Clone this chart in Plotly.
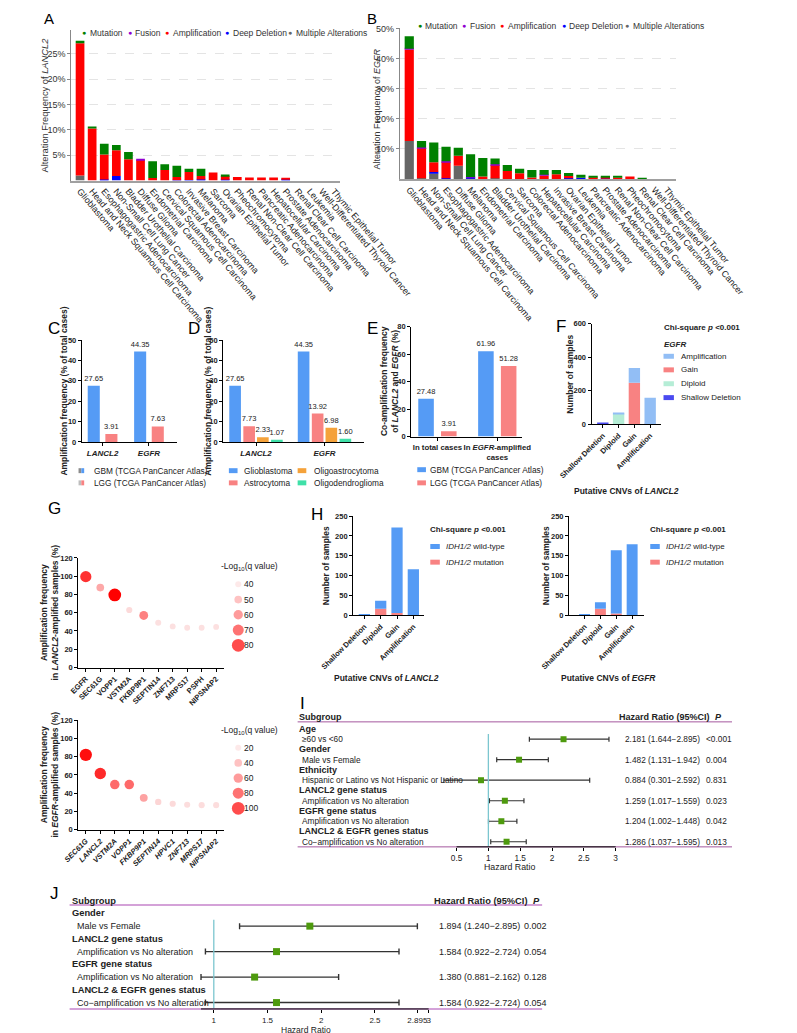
import numpy as np
import plotly.graph_objects as go

W, H = 797, 1033
SANS = "Arial, Liberation Sans, Arimo, sans-serif"

# ---------------- data ----------------
# A: LANCL2 alteration frequency (%) by cancer type
A_TYPES = ["Glioblastoma", "Head and Neck Squamous Cell Carcinoma", "Esophagogastric Adenocarcinoma",
           "Non-Small Cell Lung Cancer", "Bladder Urothelial Carcinoma", "Diffuse Glioma",
           "Endometrial Carcinoma", "Cervical Squamous Cell Carcinoma", "Colorectal Adenocarcinoma",
           "Invasive Breast Carcinoma", "Melanoma", "Sarcoma", "Ovarian Epithelial Tumor",
           "Pheochromocytoma", "Renal Non-Clear Cell Carcinoma", "Pancreatic Adenocarcinoma",
           "Hepatocellular Carcinoma", "Prostate Adenocarcinoma", "Renal Clear Cell Carcinoma",
           "Leukemia", "Well-Differentiated Thyroid Cancer", "Thymic Epithelial Tumor"]
A_MULTI = [1.0, 0, 0, 0, 0, 0, 0, 0, 0, 0, 0, 0, 0, 0, 0, 0, 0, 0, 0, 0, 0, 0]
A_DEEPDEL = [0, 0, 0.2, 0.9, 0, 0, 0, 0, 0.05, 0.1, 0.2, 0, 0.15, 0, 0, 0, 0, 0.25, 0, 0, 0, 0]
A_AMP = [26.1, 10.26, 4.93, 5.1, 4.2, 4.05, 0.5, 2.1, 0.65, 1.6, 0.7, 1.6, 0.75, 0.7, 0.6, 0.6, 0.6, 0.2, 0, 0, 0, 0]
A_FUSION = [0, 0, 0, 0, 0, 0.25, 0, 0, 0, 0, 0, 0, 0, 0, 0, 0, 0, 0, 0, 0, 0, 0]
A_MUT = [0.5, 0.4, 2.14, 1.0, 1.45, 0, 3.3, 1.1, 2.2, 0.6, 1.4, 0, 0.3, 0, 0, 0, 0, 0, 0, 0, 0, 0]

# B: EGFR alteration frequency (%) by cancer type
B_TYPES = ["Glioblastoma", "Head and Neck Squamous Cell Carcinoma", "Non-Small Cell Lung Cancer",
           "Esophagogastric Adenocarcinoma", "Diffuse Glioma", "Melanoma", "Endometrial Carcinoma",
           "Bladder Urothelial Carcinoma", "Cervical Squamous Cell Carcinoma", "Sarcoma",
           "Colorectal Adenocarcinoma", "Hepatocellular Carcinoma", "Invasive Breast Carcinoma",
           "Ovarian Epithelial Tumor", "Leukemia", "Pancreatic Adenocarcinoma", "Prostate Adenocarcinoma",
           "Renal Non-Clear Cell Carcinoma", "Pheochromocytoma", "Renal Clear Cell Carcinoma",
           "Well-Differentiated Thyroid Cancer", "Thymic Epithelial Tumor"]
B_MULTI = [12.6, 0.3, 1.8, 0, 4.4, 0.3, 0, 0.3, 0, 0, 0, 0, 0, 0, 0, 0, 0, 0, 0, 0, 0, 0]
B_DEEPDEL = [0, 0, 0.5, 0.3, 0, 0.2, 0, 0, 0, 0, 0, 0, 0, 0.3, 0.4, 0, 0.2, 0, 0, 0, 0, 0]
B_AMP = [30.4, 10.0, 3.3, 5.4, 3.3, 0, 0.8, 4.4, 2.7, 1.9, 0.5, 1.2, 1.6, 0.7, 0, 0.6, 0.3, 0.5, 0.8, 0, 0, 0]
B_FUSION = [0.3, 0.2, 0, 0.2, 0, 0.2, 0, 0.2, 0, 0, 0, 0.2, 0, 0, 0, 0, 0, 0, 0, 0, 0, 0]
B_MUT = [4.1, 2.1, 6.5, 4.8, 2.7, 7.5, 6.2, 1.9, 2.0, 1.5, 2.5, 1.6, 1.4, 1.0, 1.0, 0.5, 0.5, 0.3, 0, 0.4, 0, 0]

ALT_NAMES = ["Mutation", "Fusion", "Amplification", "Deep Deletion", "Multiple Alterations"]
ALT_COLORS = ["#008000", "#9100d0", "#ff0000", "#0000ff", "#666666"]

# C / D / E amplification frequencies (%)
GENES = ["LANCL2", "EGFR"]
C_GBM = [27.65, 44.35]
C_LGG = [3.91, 7.63]
D_GLIO = [27.65, 44.35]
D_ASTRO = [7.73, 13.92]
D_OLIGOASTRO = [2.33, 6.98]
D_OLIGODENDRO = [1.07, 1.60]
E_CATS = ["In total cases", "In EGFR-amplified cases"]
E_GBM = [27.48, 61.96]
E_LGG = [3.91, 51.28]

# F: EGFR status within LANCL2 CNV groups (samples)
CNV = ["Shallow Deletion", "Diploid", "Gain", "Amplification"]
F_SHALLOW = [5, 0, 0, 0]
F_DIPLOID = [0, 64, 0, 0]
F_GAIN = [0, 0, 248, 2]
F_AMPLIF = [0, 7, 88, 157]

# G: co-amplified genes
G1_GENES = ["EGFR", "SEC61G", "VOPP1", "VSTM2A", "FKBP9P1", "SEPTIN14", "ZNF713", "MRPS17", "PSPH", "NIPSNAP2"]
G1_FREQ = [99.5, 87.5, 79.5, 63, 57, 49, 45, 43.5, 43.5, 44.5]
G1_LOGQ = [71, 50, 80, 41, 57, 40, 39, 39, 39, 39]
G1_LEGEND = [40, 50, 60, 70, 80]
G2_GENES = ["SEC61G", "LANCL2", "VSTM2A", "VOPP1", "FKBP9P1", "SEPTIN14", "HPVC1", "ZNF713", "MRPS17", "NIPSNAP2"]
G2_FREQ = [82, 61.5, 49.5, 49.5, 35, 30.5, 28.5, 27.5, 27, 27]
G2_LOGQ = [95, 85, 62, 62, 42, 24, 22, 21, 21, 21]
G2_LEGEND = [20, 40, 60, 80, 100]

# H: IDH1/2 status within CNV groups (samples)
H1_WT = [2, 20, 215, 116]
H1_MUT = [0, 17, 6, 0]
H2_WT = [2, 16, 159, 179]
H2_MUT = [0, 17, 5, 0]

# I: Cox regression (cohort 1)
I_GROUPS = ["Age", "Gender", "Ethnicity", "LANCL2 gene status", "EGFR gene status", "LANCL2 &amp; EGFR genes status"]
I_ITEMS = ["≥60 vs &lt;60", "Male vs Female", "Hispanic or Latino vs Not Hispanic or Latino",
           "Amplification vs No alteration", "Amplification vs No alteration", "Co\u2212amplification vs No alteration"]
I_HR = [2.181, 1.482, 0.884, 1.259, 1.204, 1.286]
I_LO = [1.644, 1.131, 0.301, 1.017, 1.002, 1.037]
I_HI = [2.895, 1.942, 2.592, 1.559, 1.448, 1.595]
I_P = ["&lt;0.001", "0.004", "0.831", "0.023", "0.042", "0.013"]
I_TICKS = [0.5, 1, 1.5, 2, 2.5, 3]

# J: Cox regression (cohort 2)
J_GROUPS = ["Gender", "LANCL2 gene status", "EGFR gene status", "LANCL2 &amp; EGFR genes status"]
J_ITEMS = ["Male vs Female", "Amplification vs No alteration", "Amplification vs No alteration",
           "Co\u2212amplification vs No alteration"]
J_HR = [1.894, 1.584, 1.380, 1.584]
J_LO = [1.240, 0.922, 0.881, 0.922]
J_HI = [2.895, 2.724, 2.162, 2.724]
J_P = ["0.002", "0.054", "0.128", "0.054"]
J_TICKS = [1, 1.5, 2, 2.5, 2.895, 3]

BLUE, PINK, ORANGE, TEAL = "#559bf5", "#f88282", "#f5a23a", "#3fe0a8"
F_COLORS = ["#4a4af0", "#b5edd6", "#f88282", "#92bef5"]
GREEN = "#4e9a0e"

fig = go.Figure()
layout = dict(width=W, height=H, margin=dict(l=0, r=0, t=0, b=0), paper_bgcolor="white",
              plot_bgcolor="white", showlegend=False, barmode="overlay",
              font=dict(family=SANS, color="#222"))
ann, shapes = [], []


def axes(n, x0, x1, y0, y1, xr, yr, xkw=None, ykw=None):
    s = "" if n == 1 else str(n)
    base = dict(showgrid=False, zeroline=False, fixedrange=True)
    xa = dict(domain=[x0 / W, x1 / W], range=xr, anchor="y" + s, **base)
    ya = dict(domain=[1 - y1 / H, 1 - y0 / H], range=yr, anchor="x" + s, **base)
    xa.update(xkw or {})
    ya.update(ykw or {})
    layout["xaxis" + s] = xa
    layout["yaxis" + s] = ya
    return "x" + s, "y" + s


def T(x, y, s, size=8, anchor="left", angle=0, color="#222", yref="paper"):
    ann.append(dict(x=x / W, y=(1 - y / H) if yref == "paper" else y, xref="paper", yref=yref, text=s,
                    showarrow=False, xanchor=anchor, yanchor="middle", textangle=angle, borderpad=0,
                    font=dict(size=size, family=SANS, color=color)))


def rect(x0, x1, y0, y1, color):
    shapes.append(dict(type="rect", xref="paper", yref="paper", x0=x0 / W, x1=x1 / W,
                       y0=1 - y1 / H, y1=1 - y0 / H, fillcolor=color, line=dict(width=0)))


def hline(x0, x1, y, color, w):
    shapes.append(dict(type="line", xref="paper", yref="paper", x0=x0 / W, x1=x1 / W,
                       y0=1 - y / H, y1=1 - y / H, line=dict(color=color, width=w)))


def swatch(x, y, color, text, tx, size=8, w=11, h=5):
    rect(x, x + w, y - h / 2, y + h / 2, color)
    T(tx, y, text, size)


def stacked(xa, ya, cats, layers, colors, width):
    base = np.zeros(len(cats))
    for vals, col in zip(layers, colors):
        vals = np.asarray(vals, float)
        fig.add_trace(go.Bar(x=cats, y=vals, base=base.copy(), width=width, offset=-width / 2,
                             marker=dict(color=col, line=dict(width=0)), xaxis=xa, yaxis=ya))
        base += vals


def grouped(xa, ya, cats, vals, color, center, width):
    fig.add_trace(go.Bar(x=cats, y=vals, width=width, offset=center - width / 2,
                         marker=dict(color=color, line=dict(width=0)),
                         text=[f"{v:.2f}" for v in vals], textposition="outside",
                         textfont=dict(size=7.5, color="#222"), cliponaxis=False,
                         constraintext="none", xaxis=xa, yaxis=ya))


# ---------------- A / B (cBioPortal style) ----------------
cb_y = dict(showline=True, linecolor="#888", linewidth=1, ticks="outside", ticklen=3, tickcolor="#888",
            showgrid=True, gridcolor="#e4e4e4", griddash="dash", tickfont=dict(size=9, color="#333"))
cb_x = dict(type="category", showline=True, linecolor="#a0a0a0", linewidth=2, ticks="",
            tickangle=50, tickfont=dict(size=9, color="#222"))


def pct(vals):
    return dict(tickvals=vals, ticktext=[f"{v}%" for v in vals])


xa, ya = axes(1, 35, 345, 18, 170, [-0.72, 21.5], [0, 29.75], cb_x, dict(cb_y, **pct([5, 10, 15, 20, 25])))
stacked(xa, ya, A_TYPES, [A_MULTI, A_DEEPDEL, A_AMP, A_FUSION, A_MUT], ALT_COLORS[::-1], 0.72)
xa, ya = axes(2, 414, 732, 16, 168.5, [-0.76, 21.73], [0, 50.2], cb_x, dict(cb_y, **pct([10, 20, 30, 40, 50])))
stacked(xa, ya, B_TYPES, [B_MULTI, B_DEEPDEL, B_AMP, B_FUSION, B_MUT], ALT_COLORS[::-1], 0.75)

T(5, 94, "Alteration Frequency of <i>LANCL2</i>", 9.3, "center", angle=-90, color="#333")
T(388, 98, "Alteration Frequency of <i>EGFR</i>", 9, "center", angle=-90, color="#333")
for name, col, dx in zip(ALT_NAMES, ALT_COLORS, [49.3, 102.3, 145.7, 214.3, 287.3]):
    T(dx, 20.7, "●", 7, "center", color=col)
    T(dx + 5.5, 20.7, name, 8.5, color="#333")
for name, col, dx in zip(ALT_NAMES, ALT_COLORS, [436.7, 488.3, 532, 602.7, 675.7]):
    T(dx, 14, "●", 7, "center", color=col)
    T(dx + 5.5, 14, name, 8.5, color="#333")

# ---------------- GraphPad style panels ----------------
gp_y = dict(showline=True, linecolor="black", linewidth=1, ticks="outside", ticklen=3, tickcolor="black",
            tickfont=dict(size=7.5, weight="bold", color="#222"))
gp_x = dict(type="category", showline=True, linecolor="black", linewidth=1, ticks="outside", ticklen=3,
            tickcolor="black", tickangle=0, tickfont=dict(size=7.5, weight="bold", color="#222"))
gene_ticks = dict(tickvals=GENES, ticktext=[f"<b><i>{g}</i></b>" for g in GENES], tickfont=dict(size=8, color="#222"))

# C
xa, ya = axes(3, 47, 157, 331, 433.7, [-0.449, 1.607], [0, 50], dict(gp_x, **gene_ticks),
              dict(gp_y, tickvals=[0, 10, 20, 30, 40, 50]))
grouped(xa, ya, GENES, C_GBM, BLUE, -0.19, 0.26)
grouped(xa, ya, GENES, C_LGG, PINK, 0.19, 0.26)
T(27, 382.5, "<b>Amplification frequency (% of total cases)</b>", 8.5, "center", angle=-90)
rect(43.3, 46.5, 460.2, 465.2, "#8c8c8c"); rect(46.5, 49.8, 460.2, 465.2, BLUE)
rect(43.3, 46.5, 472.5, 477.5, "#bdbdbd"); rect(46.5, 49.8, 472.5, 477.5, PINK)
T(60, 462.7, "GBM (TCGA PanCancer Atlas)", 8.3)
T(60, 475, "LGG (TCGA PanCancer Atlas)", 8.3)

# D
xa, ya = axes(4, 210, 372, 331, 433.7, [-0.481, 1.57], [0, 50], dict(gp_x, **gene_ticks),
              dict(gp_y, tickvals=[0, 10, 20, 30, 40, 50]))
for vals, col, c in zip([D_GLIO, D_ASTRO, D_OLIGOASTRO, D_OLIGODENDRO], [BLUE, PINK, ORANGE, TEAL],
                        [-0.305, -0.1, 0.1, 0.305]):
    grouped(xa, ya, GENES, vals, col, c, 0.17)
T(193.3, 382.5, "<b>Amplification frequency (% of total cases)</b>", 8.5, "center", angle=-90)
swatch(216.7, 462.7, BLUE, "Glioblastoma", 233.3, 8.3, 10)
swatch(216.7, 475, PINK, "Astrocytoma", 233.3, 8.3, 10)
swatch(296, 462.7, ORANGE, "Oligoastrocytoma", 313.3, 8.3, 10)
swatch(296, 475, TEAL, "Oligodendroglioma", 313.3, 8.3, 10)

# E
xa, ya = axes(5, 427, 555, 317.3, 428.3, [-0.438, 1.416], [0, 80],
              dict(gp_x, tickvals=E_CATS, ticktext=["<b>In total cases</b>", "<b>In <i>EGFR</i>-amplified<br>cases</b>"],
                   tickfont=dict(size=7.8, color="#222")),
              dict(gp_y, tickvals=[0, 20, 40, 60, 80]))
grouped(xa, ya, E_CATS, E_GBM, BLUE, -0.19, 0.26)
grouped(xa, ya, E_CATS, E_LGG, PINK, 0.19, 0.26)
T(402, 372.8, "<b>Co-amplification frequency<br>of <i>LANCL2</i> and <i>EGFR</i> (%)</b>", 8.5, "center", angle=-90)
swatch(434, 461.7, BLUE, "GBM (TCGA PanCancer Atlas)", 448, 8.3, 10)
swatch(434, 475, PINK, "LGG (TCGA PanCancer Atlas)", 448, 8.3, 10)

# F
xa, ya = axes(6, 635, 715, 314.3, 416, [-0.714, 3.68], [0, 600], dict(gp_x, tickangle=-45),
              dict(gp_y, tickvals=[0, 200, 400, 600]))
stacked(xa, ya, CNV, [F_SHALLOW, F_DIPLOID, F_GAIN, F_AMPLIF], F_COLORS, 0.72)
T(610, 365, "<b>Number of samples</b>", 8.5, "center", angle=-90)
T(675, 483, "<b>Putative CNVs of <i>LANCL2</i></b>", 8.5, "center")
T(717, 318, "<b>Chi-square <i>p</i> &lt;0.001</b>", 8)
T(717, 335, "<b><i>EGFR</i></b>", 8)
for lab, col, yy in zip(CNV[::-1], F_COLORS[::-1], [347.3, 361, 375, 389]):
    swatch(718, yy, col, lab, 737, 8, 12)


# G
def qsize(q, lo, hi):
    return 6 + (np.asarray(q, float) - lo) / (hi - lo) * 6.7


REDS = [[0, "#fce0e0"], [1, "#ff0000"]]
g_y = dict(gp_y, tickvals=[0, 20, 40, 60, 80, 100, 120])
for n, genes, freq, q, leg, (y0, y1), (ly0, ly1), ital, title in [
        (7, G1_GENES, G1_FREQ, G1_LOGQ, G1_LEGEND, (550.7, 661.3), (569.6, 646.6), False, "LANCL2"),
        (8, G2_GENES, G2_FREQ, G2_LOGQ, G2_LEGEND, (714.3, 825), (734.7, 810.9), True, "EGFR")]:
    lo, hi = min(leg), max(leg)
    tt = [f"<b><i>{g}</i></b>" if ital else f"<b>{g}</b>" for g in genes]
    xa, ya = axes(n, 43, 210.7, y0, y1, [-0.52, 9.52], [0, 120],
                  dict(gp_x, tickangle=-45, tickvals=genes, ticktext=tt), g_y)
    fig.add_trace(go.Scatter(x=genes, y=freq, mode="markers", xaxis=xa, yaxis=ya, cliponaxis=False,
                             marker=dict(size=qsize(q, lo, hi), color=q, colorscale=REDS, cmin=lo, cmax=hi,
                                         line=dict(width=0), opacity=1)))
    lx, ly = axes(n + 2, 222, 233, ly0, ly1, [-1, 1], [len(leg) - 0.5, -0.5], dict(visible=False),
                  dict(type="category", side="right", showline=False, ticks="",
                       tickfont=dict(size=8.5, color="#222")))
    fig.add_trace(go.Scatter(x=[0] * len(leg), y=[str(v) for v in leg], mode="markers", xaxis=lx, yaxis=ly,
                             cliponaxis=False,
                             marker=dict(size=qsize(leg, lo, hi), color=leg, colorscale=REDS, cmin=lo, cmax=hi,
                                         line=dict(width=0))))
    T(206, ly0 - 10, "-Log<sub>10</sub>(q value)", 8.5)
    T(10, (y0 + y1) / 2, f"<b>Amplification frequency<br>in <i>{title}</i>-amplified samples (%)</b>",
      8.5, "center", angle=-90)

# H
for n, wt, mut, (x0, x1), xr, gene, ytx, xtx, lgx in [
        (11, H1_WT, H1_MUT, (360, 441.7), [-0.69, 3.65], "LANCL2", 328, 399, 448),
        (12, H2_WT, H2_MUT, (609, 695), [-0.98, 3.72], "EGFR", 581.7, 655, 701.7)]:
    xa, ya = axes(n, x0, x1, 508.5, 608.7, xr, [0, 250], dict(gp_x, tickangle=-45),
                  dict(gp_y, tickvals=[0, 50, 100, 150, 200, 250]))
    stacked(xa, ya, CNV, [mut, wt], [PINK, BLUE], 0.69)
    T(ytx, 558.7, "<b>Number of samples</b>", 8.5, "center", angle=-90)
    T(xtx, 671.5, f"<b>Putative CNVs of <i>{gene}</i></b>", 8.5, "center")
    T(lgx, 522.5, "<b>Chi-square <i>p</i> &lt;0.001</b>", 8)
    swatch(lgx + 1, 539.2, BLUE, "<i>IDH1/2</i> wild-type", lgx + 18, 8, 11)
    swatch(lgx + 1, 555, PINK, "<i>IDH1/2</i> mutation", lgx + 18, 8, 11)


# ---------------- forest plots I / J ----------------
def forest(n, groups, items, hr, lo, hi, pvals, ticks, xdom, xr, ydom, fs_head, fs_item, tick_fs,
           cols, hdr_x, msize, lw, cap, purple, pw, line_x, axis_from, title_xy):
    nrow = 2 * len(items)
    xa, ya = axes(n, xdom[0], xdom[1], ydom[0], ydom[1], xr, [nrow - 0.5, -0.5],
                  dict(tickvals=ticks, ticktext=[f"{t:g}" for t in ticks], ticks="outside", ticklen=3,
                       tickangle=0, tickcolor="black", showline=False,
                       tickfont=dict(size=tick_fs, color="#222")),
                  dict(visible=False))
    hr, lo, hi = (np.asarray(v, float) for v in (hr, lo, hi))
    rows = np.arange(len(items)) * 2 + 1
    shapes.append(dict(type="line", xref=xa, yref=ya, x0=1, x1=1, y0=0.5, y1=nrow - 0.5,
                       line=dict(color="#7cc6cf", width=1.3)))
    hline(line_x[0], line_x[1], ydom[0] - 2, purple, pw)
    hline(line_x[0], line_x[1], ydom[1], purple, pw)
    shapes.append(dict(type="line", xref=xa, yref=ya + " domain", x0=axis_from, x1=ticks[-1], y0=0, y1=0,
                       line=dict(color="black", width=1)))
    fig.add_trace(go.Scatter(x=hr, y=rows, mode="markers", xaxis=xa, yaxis=ya, cliponaxis=False,
                             marker=dict(symbol="square", size=msize, color=GREEN),
                             error_x=dict(type="data", symmetric=False, array=hi - hr, arrayminus=hr - lo,
                                          color="#333", thickness=lw, width=cap)))
    hx, ix, vx, px_ = cols
    T(hx, ydom[0] - 6.5, "<b>Subgroup</b>", fs_head)
    T(hdr_x[0], ydom[0] - 6.5, "<b>Hazard Ratio (95%CI)</b>", fs_head)
    T(hdr_x[1], ydom[0] - 6.5, "<b><i>P</i></b>", fs_head)
    for k, (g, it) in enumerate(zip(groups, items)):
        T(hx, 2 * k, f"<b>{g}</b>", fs_head, yref=ya)
        T(ix, 2 * k + 1, it, fs_item, yref=ya)
        T(vx, 2 * k + 1, f"{hr[k]:.3f} ({lo[k]:.3f}\u2212{hi[k]:.3f})", fs_item, yref=ya)
        T(px_, 2 * k + 1, pvals[k], fs_item, yref=ya)
    T(title_xy[0], title_xy[1], "Hazard Ratio", tick_fs + 0.5, "center")


forest(13, I_GROUPS, I_ITEMS, I_HR, I_LO, I_HI, I_P, I_TICKS, (440, 670), [-0.0354, 3.098], (718.1, 842.2),
       9, 8.3, 8.3, (296, 300, 672, 766), (665.7, 776), 6, 1.2, 2.5, "#a4589f", 1, (296, 797), 0.5,
       (540, 863))
forest(14, J_GROUPS, J_ITEMS, J_HR, J_LO, J_HI, J_P, J_TICKS, (170, 460), [0.7635, 3.104], (902.9, 1005.7),
       9.3, 9, 8, (34.7, 40.9, 458.4, 556), (452, 566), 7, 1.4, 3, "#d4a2d8", 2, (33, 578),
       min(J_LO), (306, 1027))

# ---------------- panel letters ----------------
for s, x, y, fs in [("A", 9, 7, 15), ("B", 382, 7, 15), ("C", 15, 319, 17), ("D", 177, 319, 17),
                    ("E", 382, 319, 17), ("F", 600, 317, 17), ("G", 16, 501, 17), ("H", 318, 507, 17),
                    ("I", 302, 698, 17), ("J", 16, 889, 17)]:
    T(x, y, s, fs, "center", color="black")

layout["annotations"] = ann
layout["shapes"] = shapes
fig.update_layout(**layout)
fig.write_html("out.html")
